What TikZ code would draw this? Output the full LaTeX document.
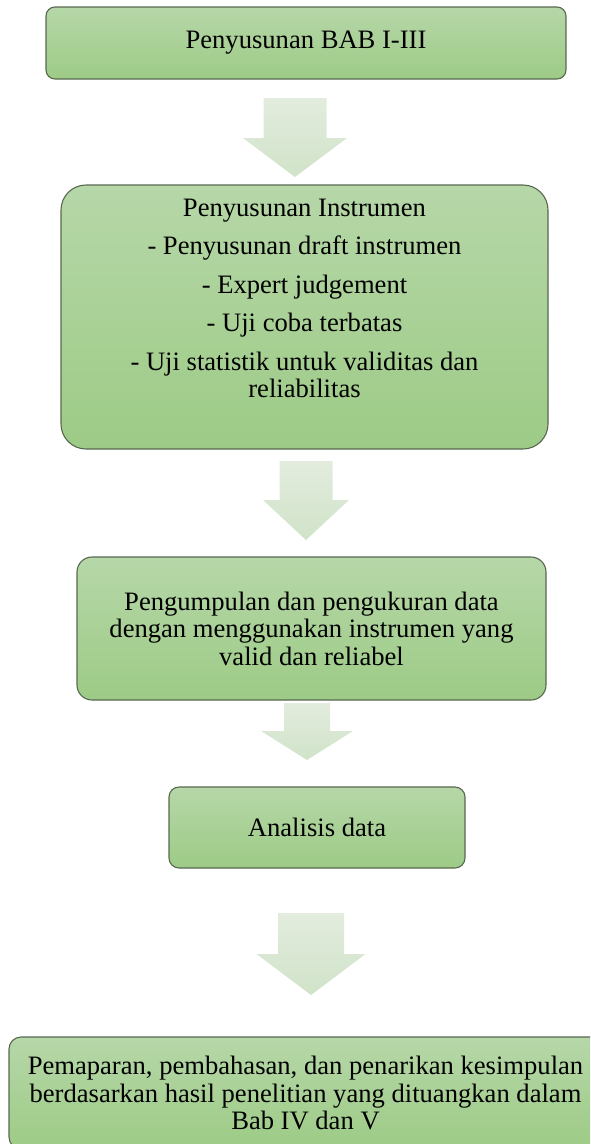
\documentclass[tikz,border=0pt]{standalone}
\usepackage{fontspec}
\setmainfont{Liberation Serif}
\usetikzlibrary{positioning, calc}

\begin{document}
\begin{tikzpicture}[x=1pt, y=-1pt, line width=1.1pt,
  boxtext/.style={inner sep=0pt, align=center, font=\fontsize{26.6}{27.5}\selectfont},
  box/.style={boxtext, draw=boxline, top color=boxtop, bottom color=boxbottom},
  blockarrow/.style={top color=arrowtop, bottom color=arrowbottom}]

%colours
\definecolor{boxtop}{RGB}{182,215,168}
\definecolor{boxbottom}{RGB}{157,203,134}
\definecolor{boxline}{RGB}{88,104,80}
\definecolor{arrowtop}{RGB}{227,236,222}
\definecolor{arrowbottom}{RGB}{208,227,200}

%page
\path[use as bounding box, clip] (0,0) rectangle (590,1144);

%boxes
  \node[box, minimum width=520pt, minimum height=72pt, rounded corners=9pt] (bab) at (306,43) {Penyusunan BAB I-III};
  \node[box, minimum width=487pt, minimum height=264pt, rounded corners=25pt] (instrumen) at (304.5,317) {};
  \node[box, minimum width=469pt, minimum height=143pt, rounded corners=15pt] (pengumpulan) at (311.5,628.5)
    {Pengumpulan dan pengukuran data\\dengan menggunakan instrumen yang\\valid dan reliabel};
  \node[box, minimum width=296pt, minimum height=81pt, rounded corners=10pt] (analisis) at (317,827.5) {Analisis data};
  \node[box, minimum width=593pt, minimum height=112pt, rounded corners=12pt] (pemaparan) at (305.5,1093)
    {Pemaparan, pembahasan, dan penarikan kesimpulan\\berdasarkan hasil penelitian yang dituangkan dalam\\Bab IV dan V};

%steps of the instrument
  \node[boxtext, anchor=north] (langkah) at ($(instrumen.north)+(0,14)$)
    {Penyusunan Instrumen\\[11pt]- Penyusunan draft instrumen\\[11pt]- Expert judgement\\[11pt]- Uji coba terbatas\\[11pt]- Uji statistik untuk validitas dan\\reliabilitas};

%arrows
  \foreach \cx/\ytop/\yhead/\ytip/\sw/\hw in {295/98/138/177/31.5/52, 306/461/500/540/26.5/43,
                                             307/703/731/760/23/46, 311/913/954/995/33/54.5}{
    \path[blockarrow] (\cx-\sw,\ytop) -- (\cx+\sw,\ytop) -- (\cx+\sw,\yhead) -- (\cx+\hw,\yhead)
      -- (\cx,\ytip) -- (\cx-\hw,\yhead) -- (\cx-\sw,\yhead) -- cycle;
  }
\end{tikzpicture}
\end{document}
